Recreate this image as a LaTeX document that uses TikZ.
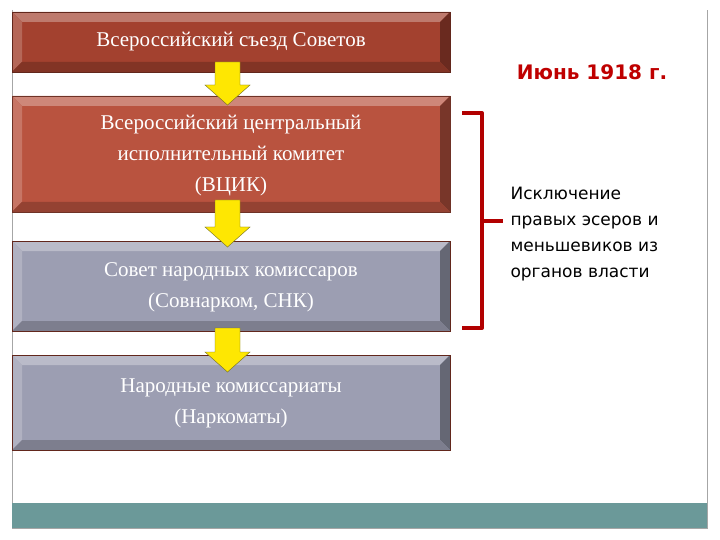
\documentclass[tikz,border=0pt]{standalone}
\usepackage{fontspec}
\setmainfont{Liberation Serif}
\newfontfamily\vfont{DejaVu Sans}
\begin{document}
\begin{tikzpicture}[x=1pt,y=-1pt,
  boxtext/.style={text=white,font=\fontsize{21}{31}\selectfont,align=center},
  sidetext/.style={font=\vfont\fontsize{17}{26}\selectfont,align=left,anchor=north west},
  yarrow/.style={fill=yellow!90!orange,draw=olive!70!black,line width=0.4pt},
  brk/.style={draw=red!70!black,line width=4pt,line join=round}]
\useasboundingbox (0,0) rectangle (720,540);
\fill[white] (0,0) rectangle (720,540);
\draw[gray!70] (12,10) -- (12,528) -- (707,528) -- (707,10);
\fill[teal!45!gray!80] (12,503) rectangle (707,528);
% bevel box macro via pic
\tikzset{pics/bevel/.style n args={4}{code={
  \fill[#3] (0,0) rectangle (#1,#2);
  \fill[#3!70!white] (0,0) -- (#1,0) -- (#1-10,10) -- (10,10) -- cycle;
  \fill[#3!80!white] (0,0) -- (10,10) -- (10,#2-10) -- (0,#2) -- cycle;
  \fill[#3!65!black] (#1,0) -- (#1,#2) -- (#1-10,#2-10) -- (#1-10,10) -- cycle;
  \fill[#3!80!black] (0,#2) -- (#1,#2) -- (#1-10,#2-10) -- (10,#2-10) -- cycle;
  \draw[#4,line width=0.6pt] (0,0) rectangle (#1,#2);
}}}
\definecolor{rdark}{HTML}{A3412F}
\definecolor{rmid}{HTML}{B9533F}
\definecolor{gbox}{HTML}{9C9EB2}
\pic at (12,12) {bevel={438}{60}{rdark}{rdark!60!black}};
\pic at (12,96) {bevel={438}{116}{rmid}{rmid!60!black}};
\pic at (12,241) {bevel={438}{90}{gbox}{rdark!60!black}};
\pic at (12,355) {bevel={438}{95}{gbox}{rdark!60!black}};
\node[boxtext] (b1) at (231,42) {Всероссийский съезд Советов};
\node[boxtext] (b2) at (231,156) {Всероссийский центральный\\исполнительный комитет\\(ВЦИК)};
\node[boxtext] (b3) at (231,287) {Совет народных комиссаров\\(Совнарком, СНК)};
\node[boxtext] (b4) at (231,403) {Народные комиссариаты\\(Наркоматы)};
\foreach \t/\b in {62/105,200/247,328/372}{
  \path[yarrow] (215,\t) -- (240,\t) -- (240,\b-20) -- (250,\b-20) -- (227.5,\b) -- (205,\b-20) -- (215,\b-20) -- cycle;}
\node[font=\vfont\bfseries\fontsize{20}{24}\selectfont,text=red!75!black] (date) at (592,72) {Июнь 1918 г.};
\coordinate (bt) at (462,113);
\coordinate (bb) at (462,328);
\coordinate (tk) at (503,221);
\draw[brk] (bt) -- (482,113) -- (482,328) -- (bb);
\draw[brk] (482,221) -- (tk);
\node[sidetext] (s) at (507,184) {Исключение\\правых эсеров и\\меньшевиков из\\органов власти};
\end{tikzpicture}
\end{document}
